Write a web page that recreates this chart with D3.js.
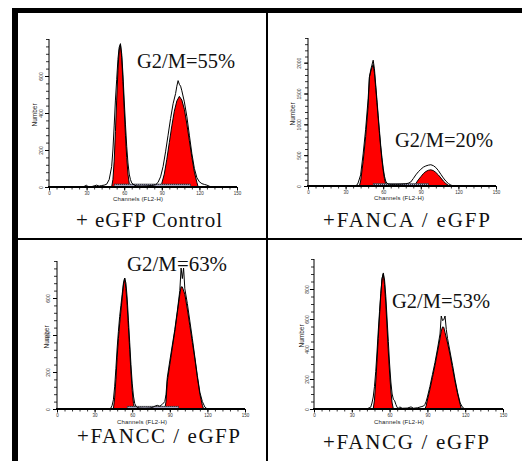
<!DOCTYPE html>
<html><head><meta charset="utf-8">
<script src="https://cdn.jsdelivr.net/npm/d3@7"></script>
<style>html,body{margin:0;padding:0;background:#fff;}svg{display:block;}</style>
</head><body>
<script>
// ---------------- DATA ----------------
const channelTicks = [0, 30, 60, 90, 120, 150];
const panelTitles = ["G2/M=55%", "G2/M=20%", "G2/M=63%", "G2/M=53%"];
const panelCaptions = ["+ eGFP Control", "+FANCA / eGFP", "+FANCC / eGFP", "+FANCG / eGFP"];
const yMaxes = [800, 2400, 800, 1000];
const p1YTicks = [0, 200, 400, 600];
const p2YTicks = [0, 500, 1000, 1500, 2000];
const p3YTicks = [0, 200, 400, 600];
const p4YTicks = [0, 200, 400, 600, 800];
const yMinorSteps = [40, 100, 40, 50];

// panel 1: + eGFP Control  [channel, count]
const p1Outline = [[0,0],[26,0],[28,3],[30,10],[31,3],[34,2],[36,6],[38,10],[40,5],[42,8],[44,10],[46,15],[48,40],[50,110],[51,200],[52,330],[53,470],[54,580],[55,690],[56,755],[57,775],[58,720],[59,610],[60,470],[61,340],[62,220],[63,130],[64,70],[65,40],[66,22],[68,10],[70,6],[74,5],[78,6],[82,8],[85,12],[87,25],[89,55],[91,110],[93,190],[95,280],[97,370],[99,450],[101,505],[102,545],[103,575],[104,555],[105,545],[106,520],[108,460],[110,380],[112,280],[114,180],[116,100],[118,50],[120,28],[122,18],[124,14],[126,10],[128,4],[130,0],[150,0]];
const p1G1Fill = [[50,0],[51,40],[52,140],[53,300],[54,470],[55,630],[56,740],[57,770],[58,700],[59,570],[60,420],[61,280],[62,160],[63,70],[64,20],[65,0]];
const p1G2Fill = [[89,0],[90,20],[92,70],[94,150],[96,240],[98,330],[100,410],[102,465],[104,490],[106,470],[108,420],[110,340],[112,250],[114,160],[116,80],[118,25],[119,0]];
const p1SPhase = [52, 113, 16];

// panel 2: +FANCA / eGFP
const p2Outline = [[0,0],[38,0],[39,15],[40,50],[42,180],[44,520],[46,920],[48,1420],[49,1760],[50,1880],[51,1960],[52,2040],[53,1900],[54,1650],[55,1400],[56,1150],[57,900],[58,660],[59,460],[60,290],[61,160],[62,80],[63,45],[64,32],[66,28],[70,28],[74,30],[78,36],[80,45],[82,65],[84,120],[86,180],[88,230],[90,270],[92,305],[94,325],[96,338],[98,345],[100,330],[102,300],[104,250],[106,190],[108,130],[110,80],[112,40],[114,15],[116,0],[150,0]];
const p2G1Fill = [[41,0],[42,80],[44,400],[46,800],[48,1300],[49,1770],[50,1850],[51,1920],[52,1970],[53,1830],[54,1600],[55,1350],[56,1100],[57,850],[58,620],[59,420],[60,250],[61,120],[62,30],[63,0]];
const p2G2Fill = [[84,0],[86,40],[88,100],[90,150],[92,200],[94,235],[96,255],[98,262],[100,250],[102,220],[104,180],[106,130],[108,80],[110,40],[112,10],[113,0]];
const p2SPhase = [52, 96, 40];

// panel 3: +FANCC / eGFP
const p3Outline = [[0,0],[42,0],[43,5],[44,20],[45,50],[46,120],[47,220],[48,330],[49,420],[50,500],[51,560],[52,620],[53,680],[54,708],[55,680],[56,600],[57,480],[58,360],[59,240],[60,140],[61,70],[62,30],[63,15],[64,8],[66,5],[70,4],[74,5],[76,8],[78,15],[80,20],[82,15],[84,25],[86,40],[87,80],[88,170],[90,260],[92,345],[94,430],[96,530],[98,640],[99,762],[100,705],[101,762],[102,650],[104,570],[106,475],[108,380],[110,280],[112,180],[114,90],[116,40],[118,10],[120,0],[150,0]];
const p3G1Fill = [[45,0],[46,60],[47,160],[48,280],[49,380],[50,460],[51,530],[52,600],[53,670],[54,708],[55,650],[56,560],[57,440],[58,320],[59,200],[60,100],[61,30],[62,0]];
const p3G2Fill = [[86,0],[87,40],[88,150],[90,240],[92,330],[94,420],[96,520],[98,620],[99,660],[100,660],[102,620],[104,540],[106,450],[108,360],[110,270],[112,170],[114,80],[116,20],[117,0]];
const p3SPhase = [56, 97, 15];

// panel 4: +FANCG / eGFP
const p4Outline = [[0,0],[42,0],[43,5],[45,12],[46,40],[47,80],[48,150],[49,250],[50,380],[51,520],[52,650],[53,770],[54,870],[55,907],[56,860],[57,750],[58,600],[59,450],[60,300],[61,180],[62,100],[63,65],[64,55],[65,30],[66,10],[67,5],[68,14],[70,5],[74,6],[77,14],[79,5],[82,8],[85,15],[87,20],[88,30],[89,50],[90,80],[92,150],[94,230],[96,310],[98,400],[100,500],[101,620],[102,590],[103,595],[104,620],[105,530],[106,470],[108,380],[110,290],[112,195],[114,110],[116,40],[118,10],[120,0],[150,0]];
const p4G1Fill = [[47,0],[48,60],[49,180],[50,320],[51,470],[52,620],[53,760],[54,870],[55,900],[56,830],[57,700],[58,540],[59,380],[60,240],[61,120],[62,40],[63,0]];
const p4G2Fill = [[88,0],[89,20],[90,60],[92,130],[94,210],[96,290],[98,380],[100,470],[101,520],[102,547],[103,545],[104,510],[106,440],[108,360],[110,270],[112,180],[114,100],[116,30],[117,0]];
const p4SPhase = null;

// ---------------- DRAW ----------------
const W = 522, H = 461;
const svg = d3.select("body").append("svg").attr("width", W).attr("height", H);
svg.append("rect").attr("width", W).attr("height", H).attr("fill", "#fff");

const defs = svg.append("defs");
const pat = defs.append("pattern").attr("id", "sband").attr("width", 2).attr("height", 2)
  .attr("patternUnits", "userSpaceOnUse");
pat.append("rect").attr("width", 2).attr("height", 2).attr("fill", "#a8a8c0");
pat.append("rect").attr("width", 1).attr("height", 1).attr("fill", "#3a3a50");

// frame
svg.append("rect").attr("x", 12).attr("y", 8).attr("width", 6).attr("height", H - 8).attr("fill", "#000");
svg.append("rect").attr("x", 12).attr("y", 8).attr("width", W - 12).attr("height", 5).attr("fill", "#000");
svg.append("rect").attr("x", 266).attr("y", 13).attr("width", 2).attr("height", H - 13).attr("fill", "#000");
svg.append("rect").attr("x", 18).attr("y", 238).attr("width", W - 18).attr("height", 2).attr("fill", "#000");

const layouts = [
  {x0:49, x1:237, y0:187, y1:39, gx:137, gy:68, gw:98, cx:76, cy:227, cw:146, numDx:-14, labDx:-5, xtX:138, xtY:201},
  {x0:308, x1:496, y0:186, y1:38, gx:395, gy:147, gw:98, cx:323, cy:227, cw:167, numDx:-15, labDx:-6, xtX:399, xtY:200},
  {x0:57, x1:245, y0:409, y1:261, gx:127, gy:271, gw:100, cx:77, cy:443, cw:163, numDx:-10, labDx:-6, xtX:142, xtY:424},
  {x0:314, x1:503, y0:409, y1:259, gx:392, gy:308, gw:98, cx:323, cy:449, cw:166, numDx:-12, labDx:-4, xtX:399, xtY:424}
];
const panels = [
  {outline:p1Outline, g1:p1G1Fill, g2:p1G2Fill, s:p1SPhase, yTicks:p1YTicks},
  {outline:p2Outline, g1:p2G1Fill, g2:p2G2Fill, s:p2SPhase, yTicks:p2YTicks},
  {outline:p3Outline, g1:p3G1Fill, g2:p3G2Fill, s:p3SPhase, yTicks:p3YTicks},
  {outline:p4Outline, g1:p4G1Fill, g2:p4G2Fill, s:p4SPhase, yTicks:p4YTicks}
];

panels.forEach((p, i) => {
  const L = layouts[i];
  const g = svg.append("g");
  const x = d3.scaleLinear().domain([0, 150]).range([L.x0, L.x1]);
  const y = d3.scaleLinear().domain([0, yMaxes[i]]).range([L.y0, L.y1]);
  const area = d3.area().x(d => x(d[0])).y0(y(0)).y1(d => y(d[1]));
  const line = d3.line().x(d => x(d[0])).y(d => y(d[1]));

  [p.g1, p.g2].forEach(arr => {
    g.append("path").attr("d", area(arr)).attr("fill", "#ff0000")
      .attr("stroke", "#000").attr("stroke-width", 1).attr("stroke-linejoin", "round");
  });
  if (p.s) {
    g.append("rect").attr("x", x(p.s[0])).attr("y", y(p.s[2]))
      .attr("width", x(p.s[1]) - x(p.s[0])).attr("height", y(0) - y(p.s[2]))
      .attr("fill", "url(#sband)").attr("stroke", "#333").attr("stroke-width", 0.6);
  }
  g.append("path").attr("d", line(p.outline)).attr("fill", "none")
    .attr("stroke", "#000").attr("stroke-width", 1).attr("stroke-linejoin", "round");

  const yMinor = d3.range(0, yMaxes[i] + 1, yMinorSteps[i]);
  g.append("g").attr("transform", `translate(${L.x0},0)`)
    .call(d3.axisLeft(y).tickValues(yMinor).tickSize(3).tickFormat(""))
    .call(a => a.select(".domain").remove())
    .call(a => a.selectAll("line").attr("stroke", "#000").attr("stroke-width", 0.8));
  const ya = g.append("g").attr("transform", `translate(${L.x0},0)`)
    .call(d3.axisLeft(y).tickValues(p.yTicks).tickSize(4).tickFormat(d3.format("d")))
    .call(a => a.select(".domain").remove());
  ya.selectAll("line").attr("stroke", "#000");
  ya.selectAll("text").attr("transform", "rotate(-90)").attr("x", 0).attr("y", L.labDx - 1)
    .attr("dy", 0).attr("text-anchor", "middle")
    .attr("font-family", "Liberation Sans, Arial, sans-serif").attr("font-size", 5).attr("fill", "#333");
  g.append("line").attr("x1", L.x0).attr("x2", L.x0).attr("y1", L.y0).attr("y2", L.y1)
    .attr("stroke", "#000").attr("stroke-width", 1);

  const xMinor = d3.range(0, 151, 6);
  g.append("g").attr("transform", `translate(0,${L.y0})`)
    .call(d3.axisBottom(x).tickValues(xMinor).tickSize(2.5).tickFormat(""))
    .call(a => a.select(".domain").remove())
    .call(a => a.selectAll("line").attr("stroke", "#000").attr("stroke-width", 0.8));
  const xa = g.append("g").attr("transform", `translate(0,${L.y0})`)
    .call(d3.axisBottom(x).tickValues(channelTicks).tickSize(3.5).tickPadding(1.5))
    .call(a => a.select(".domain").remove());
  xa.selectAll("line").attr("stroke", "#000");
  xa.selectAll("text").attr("font-family", "Liberation Sans, Arial, sans-serif")
    .attr("font-size", 4.5).attr("fill", "#333");
  g.append("line").attr("x1", L.x0 - 1).attr("x2", L.x1).attr("y1", L.y0).attr("y2", L.y0)
    .attr("stroke", "#000").attr("stroke-width", 2);

  g.append("text").attr("x", L.xtX).attr("y", L.xtY).attr("text-anchor", "middle")
    .attr("font-family", "Liberation Sans, Arial, sans-serif").attr("font-size", 6)
    .attr("fill", "#222").attr("textLength", 50).attr("lengthAdjust", "spacing")
    .text("Channels (FL2-H)");
  const ny = (L.y0 + L.y1) / 2 + 2;
  g.append("text").attr("transform", `translate(${L.x0 + L.numDx},${ny}) rotate(-90)`)
    .attr("text-anchor", "middle").attr("dy", "0.35em")
    .attr("font-family", "Liberation Sans, Arial, sans-serif").attr("font-size", 6.5)
    .attr("fill", "#222").text("Number");

  g.append("text").attr("x", L.gx).attr("y", L.gy)
    .attr("font-family", "Liberation Serif, Times New Roman, serif").attr("font-size", 20)
    .attr("fill", "#111").attr("textLength", L.gw).attr("lengthAdjust", "spacingAndGlyphs")
    .text(panelTitles[i]);
  g.append("text").attr("x", L.cx).attr("y", L.cy)
    .attr("font-family", "Liberation Serif, Times New Roman, serif").attr("font-size", 21)
    .attr("fill", "#111").attr("textLength", L.cw).attr("lengthAdjust", "spacing")
    .text(panelCaptions[i]);
});
</script>
</body></html>
